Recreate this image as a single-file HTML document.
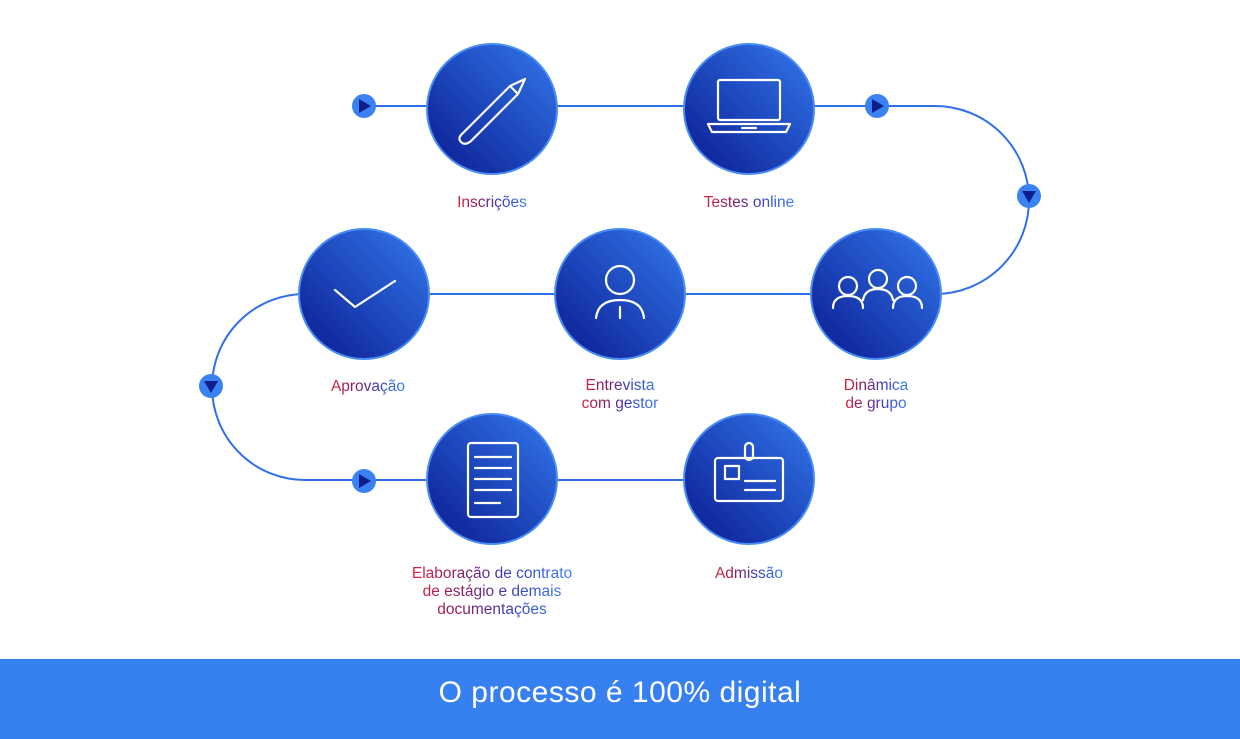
<!DOCTYPE html>
<html><head><meta charset="utf-8"><style>
body{margin:0;width:1240px;height:739px;background:#fff;overflow:hidden;position:relative;font-family:"Liberation Sans",sans-serif}
.w{position:absolute;width:300px;margin-left:-150px;text-align:center}
.lbl{display:inline-block;text-align:center;font-size:15.5px;line-height:18px;
background:linear-gradient(90deg,#e0203a 0%,#8a1f5e 30%,#3a3fc0 62%,#3b82f0 100%);-webkit-background-clip:text;background-clip:text;color:transparent}
.bar{position:absolute;left:0;top:659px;width:1240px;height:80px;background:#3780f2;color:#fff;font-size:30px;text-align:center;line-height:68px;letter-spacing:0.5px}
</style></head><body>
<svg width="1240" height="739" style="position:absolute;left:0;top:0">
<defs>
<linearGradient id="g" x1="0" y1="1" x2="1" y2="0">
<stop offset="0" stop-color="#0a1a90"/><stop offset="1" stop-color="#3378ec"/></linearGradient>
</defs>
<g fill="none" stroke="#2f6fe8" stroke-width="2">
<path d="M364 106 H935 A94 94 0 0 1 935 294 H305 A93 93 0 0 0 305 480 H749"/>
</g>
<g stroke="#4a8cf5" stroke-width="2" fill="url(#g)">
<circle cx="492" cy="109" r="65"/><circle cx="749" cy="109" r="65"/>
<circle cx="876" cy="294" r="65"/><circle cx="620" cy="294" r="65"/><circle cx="364" cy="294" r="65"/>
<circle cx="492" cy="479" r="65"/><circle cx="749" cy="479" r="65"/>
</g>
<g fill="#3a82f2">
<circle cx="364" cy="106" r="12"/><circle cx="877" cy="106" r="12"/><circle cx="1029" cy="196" r="12"/>
<circle cx="211" cy="386" r="12"/><circle cx="364" cy="481" r="12"/>
</g>
<g fill="#0d1f8c">
<path d="M359 99 L371 106 L359 113Z"/><path d="M872 99 L884 106 L872 113Z"/>
<path d="M1022 191 L1036 191 L1029 203Z"/><path d="M204 381 L218 381 L211 393Z"/>
<path d="M359 474 L371 481 L359 488Z"/>
</g>
<g fill="none" stroke="#fff" stroke-width="2.2" stroke-linecap="round" stroke-linejoin="round">
<path d="M463 133 L510 86 L525 79 L518 94 L471 141 Q465 146 461 142 Q457 138 463 133Z M510 86 L518 94"/>
<rect x="718" y="80" width="62" height="40" rx="2"/><path d="M708 124 H790 L786 132 H712Z M742 128 H756"/>
<circle cx="848" cy="286" r="9"/><circle cx="878" cy="279" r="9"/><circle cx="907" cy="286" r="9"/>
<path d="M833 308 Q833 296 848 296 Q863 296 863 308 M863 300 Q865 289 878 289 Q891 289 893 300 M893 308 Q893 296 907 296 Q922 296 922 308"/>
<circle cx="620" cy="280" r="14"/><path d="M596 318 Q598 300 620 300 Q642 300 644 318 M620 307 V318"/>
<path d="M335 290 L355 307 L395 281"/>
<rect x="468" y="443" width="50" height="74" rx="3"/><path d="M475 457 H511 M475 468 H511 M475 479 H511 M475 490 H511 M475 503 H500"/>
<rect x="715" y="458" width="68" height="43" rx="3"/><rect x="725" y="466" width="14" height="13"/>
<path d="M745 481 H775 M745 490 H775"/><rect x="745" y="443" width="8" height="17" rx="4"/>
</g>
</svg>
<div class="w" style="left:492px;top:194px"><span class="lbl">Inscrições</span></div>
<div class="w" style="left:749px;top:194px"><span class="lbl">Testes online</span></div>
<div class="w" style="left:876px;top:377px"><span class="lbl">Dinâmica<br>de grupo</span></div>
<div class="w" style="left:620px;top:377px"><span class="lbl">Entrevista<br>com gestor</span></div>
<div class="w" style="left:368px;top:378px"><span class="lbl">Aprovação</span></div>
<div class="w" style="left:492px;top:565px"><span class="lbl">Elaboração de contrato<br>de estágio e demais<br>documentações</span></div>
<div class="w" style="left:749px;top:565px"><span class="lbl">Admissão</span></div>
<div class="bar">O processo é 100% digital</div>
</body></html>
